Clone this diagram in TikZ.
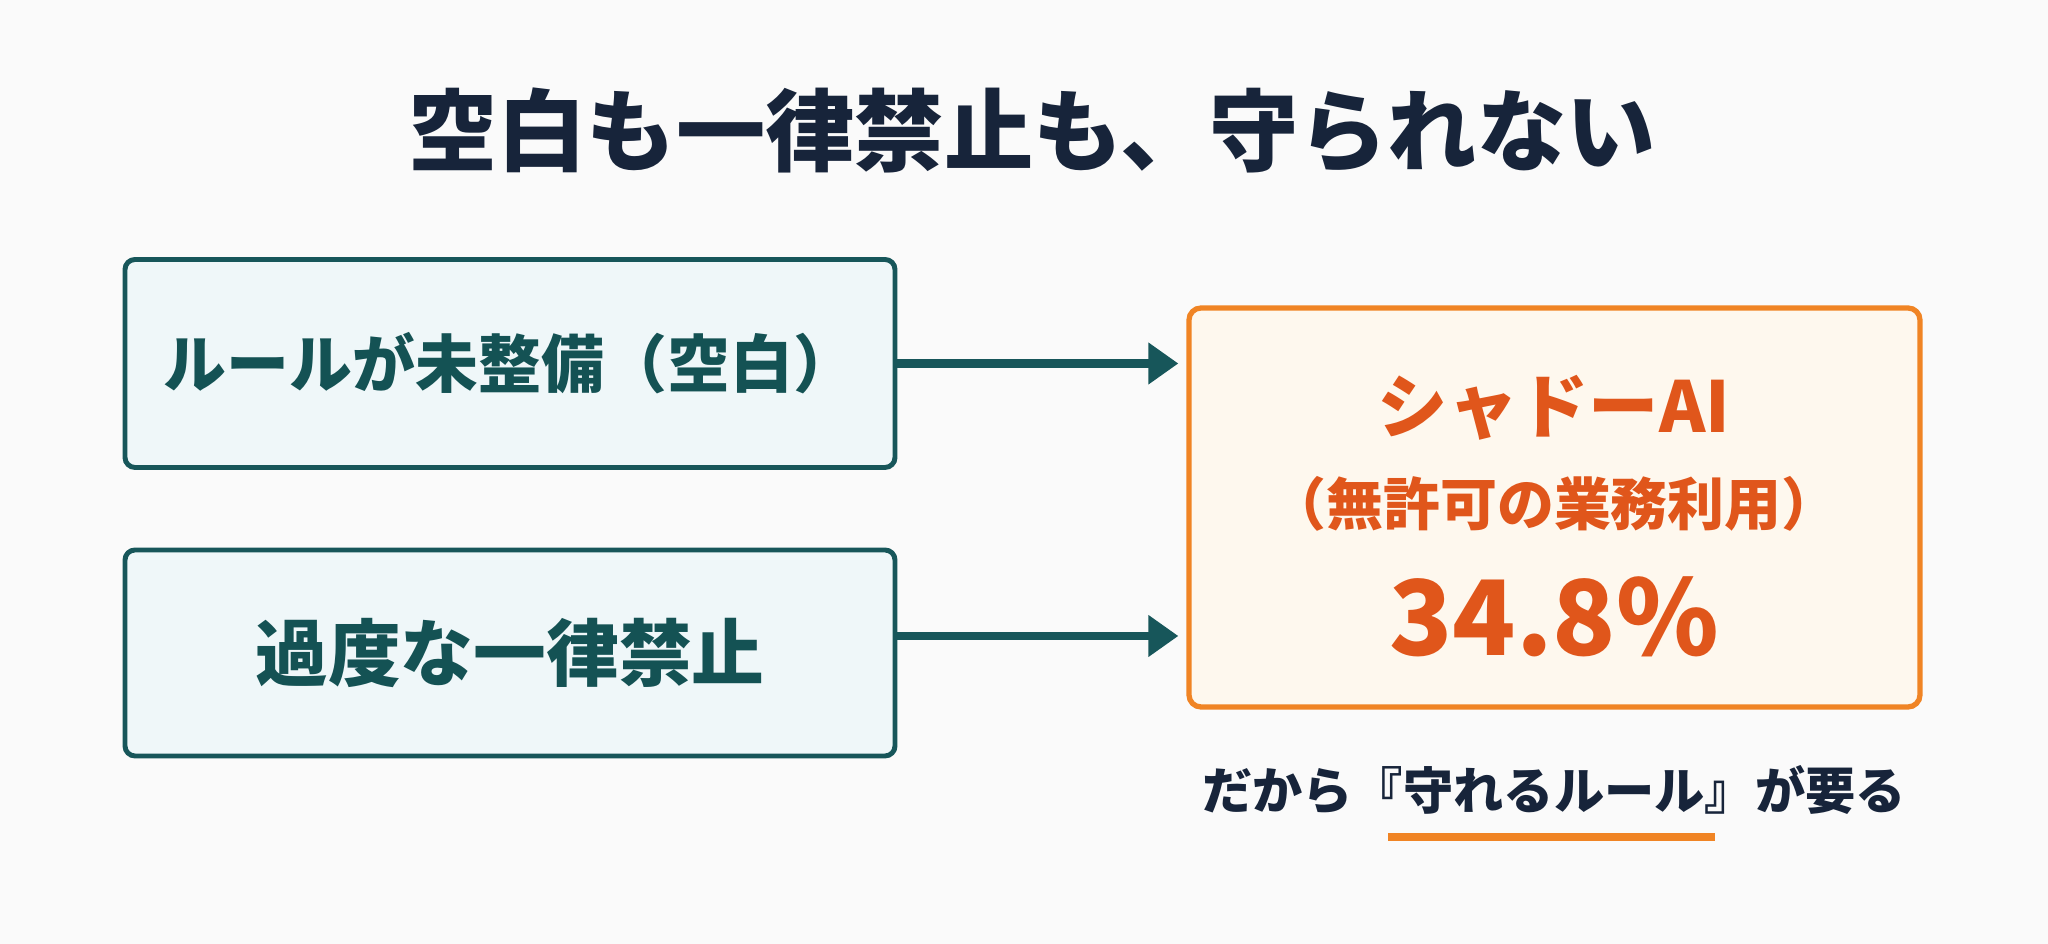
\documentclass[tikz,border=0pt]{standalone}
\usepackage{fontspec}
\setmainfont{Noto Sans CJK JP}
\usetikzlibrary{arrows.meta}

\definecolor{bgcol}{HTML}{FAFAFA}
\definecolor{tealline}{HTML}{17565A}
\definecolor{tealfill}{HTML}{EFF7F9}
\definecolor{tealtext}{HTML}{145254}
\definecolor{orangeline}{HTML}{F08424}
\definecolor{orangefill}{HTML}{FEF8EE}
\definecolor{orangetext}{HTML}{E0561B}
\definecolor{navy}{HTML}{17243A}

\begin{document}
\begin{tikzpicture}[
    box/.style={draw=tealline, fill=tealfill, line width=1.4pt, rounded corners=0.1cm,
        minimum width=7.7cm, minimum height=2.08cm, text=tealtext},
    shadowbox/.style={draw=orangeline, fill=orangefill, line width=1.5pt, rounded corners=0.12cm,
        minimum width=7.31cm, minimum height=3.99cm},
    conn/.style={-{Triangle[length=0.3cm,width=0.4cm]}, line width=2.3pt, draw=tealline, shorten >=0.08cm}
]
    \fill[bgcol] (0,0) rectangle (20.48,9.44);

    % Titel
    \node[text=navy, font=\fontsize{25.4}{30}\selectfont\bfseries] (title) at (10.32,8.13) {空白も一律禁止も、守られない};

    % Ursachen
    \node[box, font=\fontsize{17.9}{21}\selectfont\bfseries] (rule) at (5.10,5.805) {ルールが未整備（空白）};
    \node[box, minimum height=2.06cm, font=\fontsize{20.7}{24}\selectfont\bfseries] (ban) at (5.10,2.91) {過度な一律禁止};

    % Folge
    \node[shadowbox] (shadow) at (15.545,4.365) {};
    \node[text=orangetext, font=\fontsize{20}{24}\selectfont\bfseries] (shadowname) at (15.54,5.36) {シャドーAI};
    \node[text=orangetext, font=\fontsize{16.2}{20}\selectfont\bfseries] (shadowsub) at (15.54,4.40) {（無許可の業務利用）};
    \node[text=orangetext, font=\fontsize{29.6}{35}\selectfont\bfseries] (shadowpct) at (15.54,3.27) {34.8\%};

    % Pfeile
    \draw[conn] (rule.east) -- (rule.east -| shadow.west);
    \coordinate (ban out) at ([yshift=0.17cm]ban.east);
    \draw[conn] (ban out) -- (ban out -| shadow.west);

    % Fazit
    \node[text=navy, font=\fontsize{14.3}{17}\selectfont\bfseries] (note) at (15.54,1.54) {だから『守れるルール』が要る};
    \draw[draw=orangeline, line width=0.08cm] (13.88,1.07) -- (17.15,1.07);
\end{tikzpicture}
\end{document}
